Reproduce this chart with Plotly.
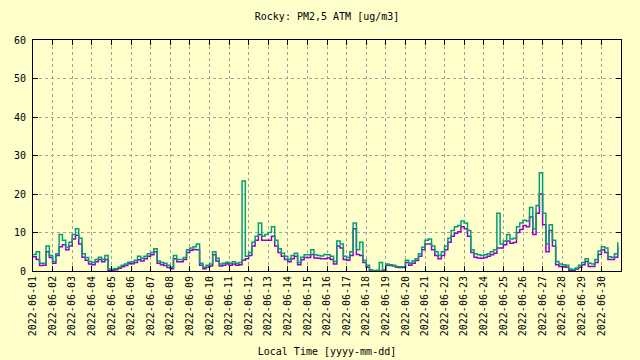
import pandas as pd
import plotly.graph_objects as go

# 4-hour samples, 6 per day, 2022-06-01 .. 2022-06-30
pm25_green = [
    4.3, 5.0, 2.0, 2.0, 6.5, 4.0,
    2.5, 4.5, 9.5, 8.0, 6.2, 7.5,
    9.5, 11.0, 8.5, 4.5, 3.5, 2.5,
    2.2, 3.0, 3.6, 3.0, 4.0, 0.5,
    0.5, 0.6, 1.0, 1.5, 1.8, 2.3,
    2.4, 2.8, 3.8, 3.3, 3.8, 4.5,
    4.8, 5.8, 2.6, 2.2, 2.0, 1.5,
    1.0, 4.0, 3.0, 3.0, 3.5, 5.5,
    6.0, 6.3, 7.0, 2.0, 1.0, 1.5,
    1.8, 5.0, 3.3, 1.8, 2.0, 2.3,
    2.0, 2.4, 2.0, 2.2, 23.4, 3.8,
    4.8, 7.5, 9.0, 12.5, 9.0, 9.5,
    10.0, 11.5, 8.0, 5.8, 4.6, 3.8,
    3.0, 4.0, 4.6, 2.2, 3.6, 4.2,
    4.2, 5.5, 4.2, 4.0, 3.9, 4.3,
    4.2, 3.8, 2.5, 7.8, 7.0, 3.8,
    3.5, 5.0, 12.5, 5.5, 7.5, 2.8,
    1.5, 0.3, 0.0, 0.2, 2.2, 0.3,
    1.8, 1.6, 1.5, 1.2, 1.1, 1.1,
    2.8, 2.0, 2.6, 3.2, 4.5, 6.2,
    8.0, 8.3, 6.5, 5.0, 4.0, 5.0,
    6.5, 8.5, 10.5, 11.5, 11.8, 13.0,
    12.5, 10.5, 5.5, 4.5, 4.2, 4.0,
    4.2, 4.5, 5.0, 5.5, 15.0, 7.0,
    7.8, 9.5, 8.3, 8.5, 11.5, 12.5,
    13.2, 13.0, 16.5, 11.0, 17.0, 25.5,
    15.0, 7.0, 12.0, 8.0, 2.5, 1.8,
    1.6, 1.5, 0.5, 0.4, 0.8, 1.5,
    2.2, 3.2, 2.0, 1.8, 3.0, 5.2,
    6.3, 6.0, 3.7, 3.6, 4.5, 7.5,
]

pm25_purple = [
    3.7, 3.0, 1.4, 1.5, 5.0, 3.5,
    2.0, 4.0, 6.3, 6.8, 5.5, 6.5,
    8.3, 9.3, 7.0, 3.6, 2.8, 1.8,
    1.6, 2.4, 3.0, 2.4, 3.0, 0.2,
    0.2, 0.3, 0.7, 1.1, 1.4, 1.9,
    1.9, 2.2, 2.9, 2.6, 3.2, 3.8,
    4.2, 5.0, 2.0, 1.6, 1.4, 0.9,
    0.6, 3.2, 2.4, 2.4, 3.0, 4.8,
    5.4, 5.6, 5.5, 1.5, 0.6, 1.0,
    1.3, 4.2, 2.6, 1.3, 1.5, 1.9,
    1.5, 1.8, 1.5, 1.6, 2.8, 3.2,
    4.0, 6.5, 8.0, 9.5, 8.0, 8.0,
    8.0, 9.0, 6.5, 4.8, 3.8, 3.0,
    2.4, 3.2, 3.8, 1.6, 2.9, 3.5,
    3.5, 4.3, 3.4, 3.3, 3.2, 3.2,
    3.4, 3.0, 1.8, 6.5, 6.0, 3.0,
    2.8, 4.0, 11.0, 4.3, 4.0, 2.2,
    1.0, 0.0, 0.0, 0.0, 0.0, 0.0,
    1.5, 1.4, 1.3, 1.0, 0.9, 0.9,
    2.2, 1.5, 2.0, 2.7, 3.8, 5.5,
    7.0, 7.0, 5.5, 4.0, 3.2, 4.0,
    5.5, 7.5, 9.0, 9.8, 10.2, 11.5,
    11.0, 9.0, 4.8, 3.6, 3.4, 3.3,
    3.5, 3.8, 4.2, 4.6, 6.0, 6.0,
    6.8, 7.8, 7.2, 7.4, 10.0, 10.8,
    11.8, 11.5, 14.0, 9.5, 15.0, 20.0,
    12.0, 5.0, 10.5, 6.5, 1.6, 1.2,
    1.1, 1.0, 0.2, 0.2, 0.5, 1.0,
    1.6, 2.5, 1.2, 1.2, 2.2, 4.3,
    5.5, 4.8, 3.0, 3.0, 3.6, 6.5,
]

day_ticks = [f"2022-06-{d:02d}" for d in range(1, 31)]
y_ticks = [0, 10, 20, 30, 40, 50, 60]

times = pd.date_range("2022-06-01 00:00", periods=len(pm25_green), freq="4h")

BG = "#ffffcc"
FONT = "DejaVu Sans Mono"
FS = 10

fig = go.Figure()
fig.add_trace(go.Scatter(x=times, y=pm25_purple, mode="lines",
                         line=dict(color="#9400d3", width=1.5, shape="hv"),
                         showlegend=False))
fig.add_trace(go.Scatter(x=times, y=pm25_green, mode="lines",
                         line=dict(color="#009e73", width=1.5, shape="hv"),
                         showlegend=False))

fig.update_layout(
    width=640, height=360,
    margin=dict(l=33, r=19, t=40, b=89, autoexpand=False),
    paper_bgcolor=BG, plot_bgcolor=BG,
    font=dict(family=FONT, size=FS, color="black"),
    title=dict(text="Rocky: PM2,5 ATM [ug/m3]", x=0.511, xanchor="center",
               yref="container", y=0.953, yanchor="middle",
               font=dict(family=FONT, size=FS)),
)
fig.update_xaxes(
    range=["2022-06-01", "2022-07-01"], automargin=False,
    tickmode="array", tickvals=day_ticks, ticktext=day_ticks,
    tickangle=-90, ticks="inside", ticklen=5, tickcolor="black",
    showgrid=True, gridcolor="#a0a0a0", griddash="3px,3px", gridwidth=1,
    showline=True, linecolor="black", linewidth=1, mirror="ticks",
    zeroline=False,
    title=dict(text="Local Time [yyyy-mm-dd]", standoff=12,
               font=dict(family=FONT, size=FS)),
)
fig.update_yaxes(
    range=[0, 60], automargin=False,
    tickmode="array", tickvals=y_ticks,
    ticks="inside", ticklen=5, tickcolor="black", ticklabelstandoff=4,
    showgrid=True, gridcolor="#a0a0a0", griddash="3px,3px", gridwidth=1,
    showline=True, linecolor="black", linewidth=1, mirror="ticks",
    zeroline=False,
)

fig.write_html(
    "out.html",
    config={"displayModeBar": False},
    post_script="document.body.style.margin='0';document.body.style.overflow='hidden';document.body.style.background='#ffffcc';",
)
